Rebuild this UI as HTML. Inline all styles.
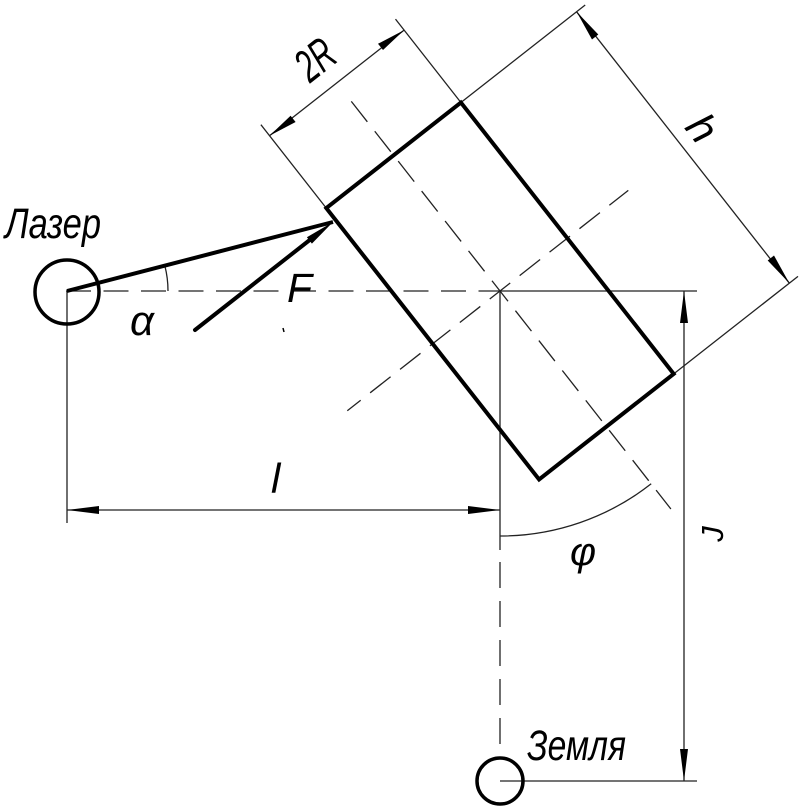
<!DOCTYPE html>
<html><head><meta charset="utf-8"><style>
html,body{margin:0;padding:0;background:#fff;}
svg{display:block;}
text{font-family:"Liberation Sans","DejaVu Sans",sans-serif;font-style:italic;fill:#000;}
</style></head><body>
<svg width="803" height="807" viewBox="0 0 803 807" xmlns="http://www.w3.org/2000/svg">
<rect width="803" height="807" fill="#fff"/>
<g fill="none" stroke="#222" stroke-width="1.3">
  <line x1="66" y1="291" x2="500" y2="291" stroke-dasharray="25 12.5"/>
  <line x1="500" y1="291" x2="697" y2="291"/>
  <line x1="67" y1="291" x2="67" y2="523"/>
  <line x1="67" y1="510" x2="500" y2="510"/>
  <line x1="500" y1="291" x2="500" y2="550"/>
  <line x1="500" y1="562" x2="500" y2="758" stroke-dasharray="26 13"/>
  <line x1="500" y1="781" x2="697" y2="781"/>
  <line x1="684" y1="291" x2="684" y2="781"/>
  <line x1="343.9" y1="91.9" x2="670.9" y2="509.0" stroke-dasharray="26 12" stroke-dashoffset="26"/>
  <line x1="347.3" y1="410.7" x2="628.3" y2="190.4" stroke-dasharray="26 12" stroke-dashoffset="9"/>
  <line x1="326.3" y1="208.1" x2="260.9" y2="124.7"/>
  <line x1="460.9" y1="102.5" x2="395.5" y2="19.1"/>
  <line x1="269.5" y1="135.7" x2="404.1" y2="30.1"/>
  <line x1="460.9" y1="102.5" x2="585.2" y2="5.0"/>
  <line x1="673.7" y1="373.9" x2="798.0" y2="276.4"/>
  <line x1="576.6" y1="11.8" x2="789.4" y2="283.2"/>
  <path d="M 500 536 A 245 245 0 0 0 651.2 483.8"/>
  <path d="M 168 291 A 101 101 0 0 0 164.8 265.6"/>
</g>
<g fill="#000" stroke="none">
  <polygon points="67,510 99,506 99,514"/>
  <polygon points="500,510 468,506 468,514"/>
  <polygon points="684,291 680,323 688,323"/>
  <polygon points="684,781 680,749 688,749"/>
  <polygon points="404.1,30.1 383.0,50.0 378.0,43.8"/>
  <polygon points="269.5,135.7 290.6,115.8 295.6,122.0"/>
  <polygon points="576.6,11.8 592.0,39.5 598.3,34.5"/>
  <polygon points="789.4,283.2 774.0,255.5 767.7,260.5"/>
  <polygon points="333,222 311.9,243.6 306.9,237.3"/>
</g>
<g fill="none" stroke="#000">
  <polygon points="326.3,208.1 460.9,102.5 673.7,373.9 539.1,479.5" stroke-width="4" stroke-linejoin="miter"/>
  <line x1="67" y1="291" x2="333" y2="222" stroke-width="4"/>
  <line x1="195" y1="330" x2="311" y2="239" stroke-width="4" stroke-linecap="round"/>
  <circle cx="67" cy="292" r="32" stroke-width="3.5"/>
  <circle cx="500" cy="781" r="23" stroke-width="3.5"/>
  <line x1="283" y1="328" x2="284" y2="332" stroke-width="1.5"/>
</g>
<text x="5" y="238" font-size="43" textLength="96" lengthAdjust="spacingAndGlyphs">Лазер</text>
<text x="287" y="302" font-size="41">F</text>
<text x="130" y="335" font-size="42">α</text>
<text x="271" y="493" font-size="42">l</text>
<text x="570" y="565" font-size="40">φ</text>
<text x="527" y="760" font-size="43" textLength="99" lengthAdjust="spacingAndGlyphs">Земля</text>
<text transform="translate(324.9,71.9) rotate(-38.1)" font-size="46" text-anchor="middle" textLength="38" lengthAdjust="spacingAndGlyphs">2R</text>
<text transform="translate(691,137) rotate(51.9)" font-size="42" text-anchor="middle">h</text>
<text transform="translate(723,534) rotate(-90)" font-size="31" text-anchor="middle">J</text>
</svg>
</body></html>
